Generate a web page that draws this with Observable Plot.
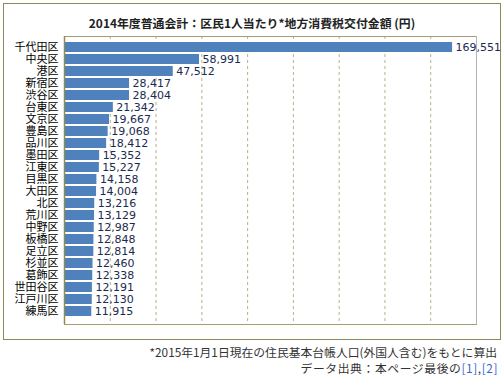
<!DOCTYPE html>
<html><head><meta charset="utf-8">
<script src="https://cdn.jsdelivr.net/npm/d3@7"></script>
<script src="https://cdn.jsdelivr.net/npm/@observablehq/plot@0.6"></script>
<style>
html,body{margin:0;padding:0;background:#fff;}
#wrap{position:relative;width:504px;height:381px;font-family:"Noto Sans CJK JP",sans-serif;}
#box{position:absolute;left:3px;top:3px;width:498px;height:337px;border:1px solid #8e8a55;box-sizing:border-box;}
#title{position:absolute;left:0;width:504px;top:13px;text-align:center;font-weight:bold;font-size:11.9px;color:#222;line-height:20px;}
#chart{position:absolute;left:0;top:30px;}
.foot{position:absolute;right:7px;font-size:11.8px;color:#333;line-height:16px;white-space:nowrap;}
.foot a{color:#3366cc;text-decoration:none;}
</style></head>
<body><div id="wrap">
<div id="box"></div>
<div id="title">2014年度普通会計：区民1人当たり*地方消費税交付金額 (円)</div>
<div id="chart"></div>
<div class="foot" style="top:344px">*2015年1月1日現在の住民基本台帳人口(外国人含む)をもとに算出</div>
<div class="foot" style="top:360px;letter-spacing:0.6px;right:6px">データ出典：本ページ最後の<a>[1]</a>,<a>[2]</a></div>
</div>
<script>
const wards = ["千代田区","中央区","港区","新宿区","渋谷区","台東区","文京区","豊島区","品川区","墨田区","江東区","目黒区","大田区","北区","荒川区","中野区","板橋区","足立区","杉並区","葛飾区","世田谷区","江戸川区","練馬区"];
const values = [169551,58991,47512,28417,28404,21342,19667,19068,18412,15352,15227,14158,14004,13216,13129,12987,12848,12814,12460,12338,12191,12130,11915];
const gridTicks = [20000,40000,60000,80000,100000,120000,140000,160000];
const xMax = 180000;

const data = wards.map((w,i)=>({ward:w, value:values[i]}));
const fmt = d3.format(",");

const chart = Plot.plot({
  width: 504,
  height: 300,
  marginLeft: 64,
  marginRight: 28,
  marginTop: 6.3,
  marginBottom: 8,
  style: {fontFamily: "'DejaVu Sans','Noto Sans CJK JP',sans-serif", fontSize: "11px", background: "transparent", color: "#111"},
  x: {domain: [0, xMax], axis: null},
  y: {domain: wards, paddingInner: 0.2, paddingOuter: 0, axis: null},
  marks: [
    Plot.ruleX(gridTicks, {stroke: "#b9b08c", strokeDasharray: "3,3", strokeWidth: 1, insetTop: -0.3, insetBottom: -2}),
    Plot.barX(data, {x: "value", y: "ward", fill: "#4f81bd"}),
    Plot.frame({stroke: "#a59c70", strokeWidth: 1, insetTop: -0.3, insetBottom: -2}),
    Plot.ruleX([xMax], {stroke: "#b4b4b4", strokeWidth: 1, insetTop: -0.3, insetBottom: -2}),
    Plot.ruleX([0], {stroke: "#8e8a55", strokeWidth: 1.5, insetTop: -0.3, insetBottom: -2}),
    Plot.text(data, {x: "value", y: "ward", text: d => fmt(d.value), dx: 3, textAnchor: "start", fill: "#1a2a50", fontSize: 11}),
    Plot.axisY({tickSize: 0, tickPadding: 6, fontFamily: "'Noto Sans CJK JP',sans-serif", fontSize: 11, fill: "#000", label: null})
  ]
});
document.getElementById("chart").appendChild(chart);
</script>
</body></html>
